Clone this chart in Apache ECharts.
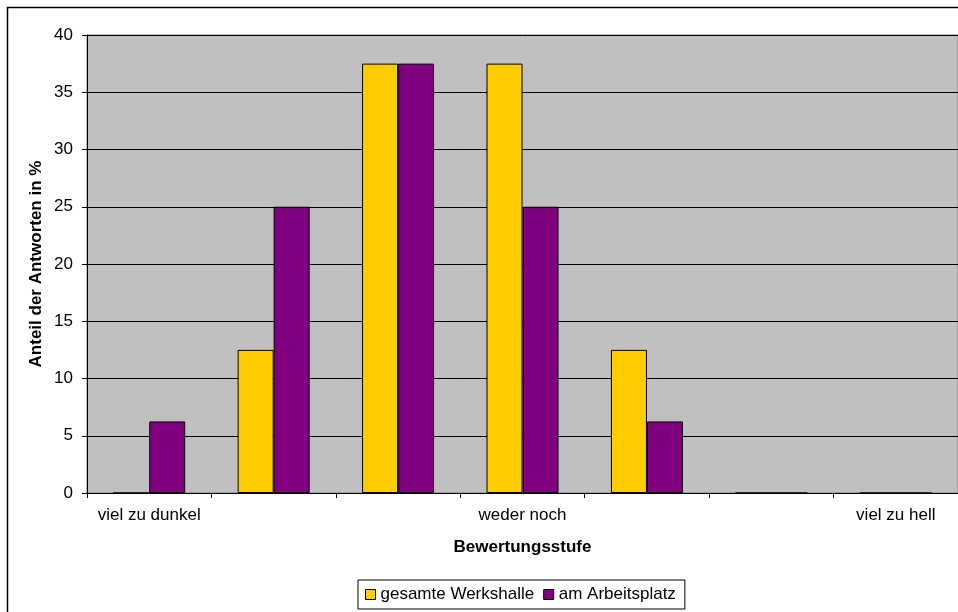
<!DOCTYPE html>
<html>
<head>
<meta charset="utf-8">
<script src="https://cdn.jsdelivr.net/npm/echarts@6/dist/echarts.min.js"></script>
<style>
  html, body { margin: 0; padding: 0; background: #ffffff; }
  #chart { width: 958px; height: 612px; }
</style>
</head>
<body>
<div id="chart"></div>
<script>
// Rating scale: only the two ends and the midpoint carry a label
const categories = ['viel zu dunkel', '', '', 'weder noch', '', '', 'viel zu hell'];
// Share of answers in percent per rating step
const gesamteWerkshalle = [0, 12.5, 37.5, 37.5, 12.5, 0, 0];
const amArbeitsplatz = [6.25, 25, 37.5, 25, 6.25, 0, 0];
const seriesNames = ['gesamte Werkshalle', 'am Arbeitsplatz'];

const FONT = '"Liberation Sans", Arial, sans-serif';
const FS = 17;

const chart = echarts.init(document.getElementById('chart'), null, { renderer: 'canvas' });

chart.setOption({
  animation: false,
  backgroundColor: '#ffffff',
  textStyle: { fontFamily: FONT, color: '#000' },
  graphic: [{
    type: 'rect',
    shape: { x: 7.5, y: 7.5, width: 1000, height: 700 },
    style: { fill: 'none', stroke: '#000', lineWidth: 1.5 },
    silent: true,
    z: 100
  }],
  grid: {
    left: 87, top: 35, width: 871, height: 458,
    show: true,
    backgroundColor: '#c0c0c0',
    borderColor: '#808080',
    borderWidth: 1
  },
  legend: {
    left: 358, top: 580,
    orient: 'horizontal',
    data: seriesNames,
    icon: 'rect',
    itemWidth: 10, itemHeight: 10,
    itemGap: 9,
    borderColor: '#000', borderWidth: 1,
    padding: [6, 9, 6, 7],
    backgroundColor: '#fff',
    textStyle: { fontFamily: FONT, fontSize: FS, color: '#000' },
    itemStyle: { borderColor: '#000', borderWidth: 1 }
  },
  xAxis: {
    type: 'category',
    data: categories,
    name: 'Bewertungsstufe',
    nameLocation: 'middle',
    nameGap: 46,
    nameMoveOverlap: false,
    nameTextStyle: { fontFamily: FONT, fontSize: FS, fontWeight: 'bold', color: '#000' },
    axisLine: { lineStyle: { color: '#000', width: 1 } },
    axisTick: { show: true, length: 5, interval: 0, lineStyle: { color: '#000' } },
    axisLabel: { interval: 0, margin: 14, fontFamily: FONT, fontSize: FS, color: '#000' },
    splitLine: { show: false }
  },
  yAxis: {
    type: 'value',
    min: 0, max: 40, interval: 5,
    name: 'Anteil der Antworten in %',
    nameLocation: 'middle',
    nameGap: 42,
    nameMoveOverlap: false,
    nameRotate: 90,
    nameTextStyle: { fontFamily: FONT, fontSize: FS, fontWeight: 'bold', color: '#000' },
    axisLine: { show: true, lineStyle: { color: '#000', width: 1 } },
    axisTick: { show: true, length: 5, lineStyle: { color: '#000' } },
    axisLabel: { margin: 14, fontFamily: FONT, fontSize: FS, color: '#000' },
    splitLine: { show: true, lineStyle: { color: '#000', width: 1 } }
  },
  series: [
    {
      name: seriesNames[0],
      type: 'bar',
      data: gesamteWerkshalle,
      barWidth: 36,
      barGap: '0%',
      itemStyle: { color: '#ffcc00', borderColor: '#000', borderWidth: 1 }
    },
    {
      name: seriesNames[1],
      type: 'bar',
      data: amArbeitsplatz,
      barWidth: 36,
      barGap: '0%',
      itemStyle: { color: '#800080', borderColor: '#000', borderWidth: 1 }
    }
  ]
});
</script>
</body>
</html>
